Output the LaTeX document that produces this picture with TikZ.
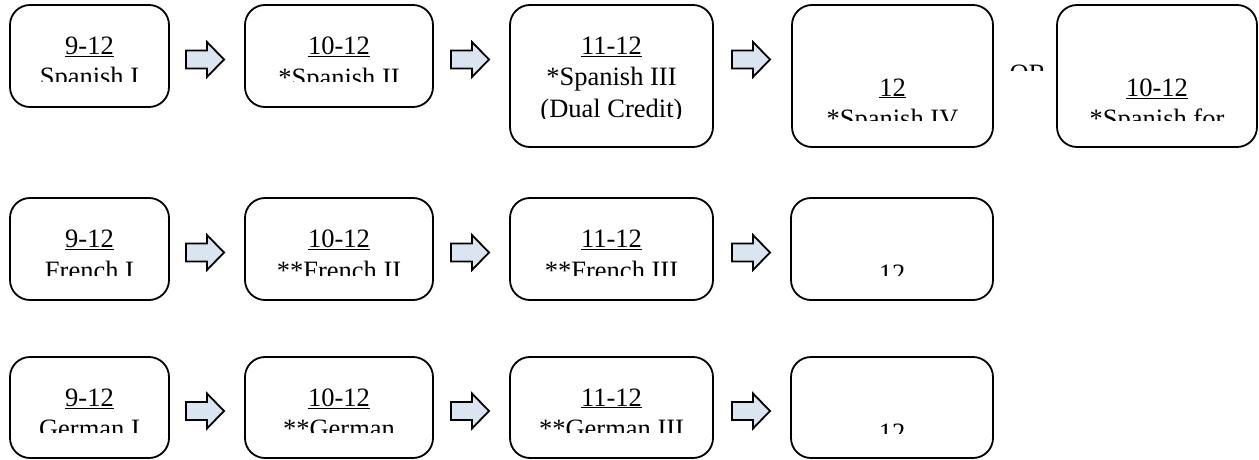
\documentclass[tikz,border=0pt]{standalone}
\usepackage{fontspec}
\setmainfont{Liberation Serif}
\definecolor{arrowfill}{RGB}{219,229,241}
\tikzset{
  box/.style={draw=black, line width=1.8pt, rounded corners=20pt, inner sep=0pt},
  crslabel/.style={anchor=north, inner sep=0pt, align=center, font=\fontsize{26.5}{31.5}\selectfont},
  blockarrow/.style={draw=black, line width=1.8pt, fill=arrowfill, line join=miter},
}
% name, x1, y1, x2, y2, clip y, text top y, text
\newcommand\crsbox[8]{%
  \node[box, minimum width={#4pt-#2pt}, minimum height={#5pt-#3pt}] (#1) at ({(#2+#4)/2},{(#3+#5)/2}) {};
  \begin{scope}
    \clip (#2,#3) rectangle (#4,#6);
    \node[crslabel] (#1t) at ({(#2+#4)/2},#7) {#8};
  \end{scope}}
% x left, y centre
\newcommand\barrow[2]{%
  \draw[blockarrow] (#1,#2-9) -- ++(21,0) -- ++(0,-8.5) -- ++(17,17.5) -- ++(-17,17.5) -- ++(0,-8.5) -- ++(-21,0) -- cycle;}
\begin{document}
\begin{tikzpicture}[x=1pt,y=-1pt]
\useasboundingbox (0,0) rectangle (1259,460);
% Spanish row
\crsbox{s1}{10}{5}{169}{107}{82}{36.7}{\underline{9-12}\\Spanish I}
\crsbox{s2}{245}{5}{433}{107}{82}{36.7}{\underline{10-12}\\*Spanish II}
\crsbox{s3}{510}{5}{713}{147}{118}{36.7}{\underline{11-12}\\*Spanish III\\(Dual Credit)}
\crsbox{s4}{792}{5}{993}{147}{120}{78.3}{\underline{12}\\*Spanish IV}
\crsbox{s5}{1057}{5}{1257}{147}{120}{78.3}{\underline{10-12}\\*Spanish for}
\begin{scope}
  \clip (1000,60) rectangle (1050,70.5);
  \node[crslabel] (or) at (1028,65) {OR};
\end{scope}
\barrow{186}{59.5}
\barrow{451}{59.5}
\barrow{732}{59.5}
% French row
\crsbox{f1}{10}{198}{169}{300}{275}{230}{\underline{9-12}\\French I}
\crsbox{f2}{245}{198}{433}{300}{275}{230}{\underline{10-12}\\**French II}
\crsbox{f3}{510}{198}{713}{300}{275}{230}{\underline{11-12}\\**French III}
\crsbox{f4}{791}{198}{993}{300}{275}{265}{\underline{12}}
\barrow{186}{252.5}
\barrow{451}{252.5}
\barrow{732}{252.5}
% German row
\crsbox{g1}{10}{357}{169}{458}{432}{388.3}{\underline{9-12}\\German I}
\crsbox{g2}{245}{357}{433}{458}{432}{388.3}{\underline{10-12}\\**German}
\crsbox{g3}{510}{357}{713}{458}{432}{388.3}{\underline{11-12}\\**German III}
\crsbox{g4}{791}{357}{993}{458}{433}{423.3}{\underline{12}}
\barrow{186}{411}
\barrow{451}{411}
\barrow{732}{411}
\end{tikzpicture}
\end{document}
